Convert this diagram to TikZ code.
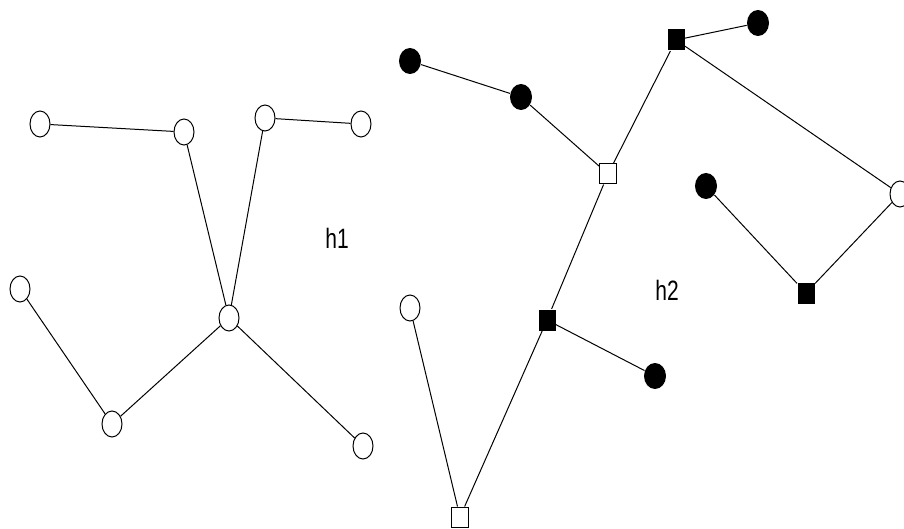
\documentclass[tikz,border=0pt]{standalone}
\usepackage{fontspec}
\newfontfamily\labelfont[FakeStretch=0.75]{Liberation Sans}
\usetikzlibrary{shapes.geometric}

\tikzset{
  whitedot/.style={draw,ellipse,minimum width=20pt,minimum height=26pt,inner sep=0pt},
  blackdot/.style={fill,ellipse,minimum width=22pt,minimum height=26pt,inner sep=0pt},
  whitesq/.style={draw,rectangle,minimum width=17pt,minimum height=20pt,inner sep=0pt},
  blacksq/.style={fill,rectangle,minimum width=17pt,minimum height=21pt,inner sep=0pt},
  graphname/.style={font=\labelfont\fontsize{28}{28}\selectfont,inner sep=0pt}
}

\begin{document}
\begin{tikzpicture}[x=1pt,y=-1pt,line width=1pt]
  \useasboundingbox (0,0) rectangle (904,529);

  % h1
  \foreach \n/\x/\y in {a/40/124,b/184/132,c/265/118,d/361/124,e/20/289,f/229/318,g/112/424,h/363/446}
    \node[whitedot] (\n) at (\x,\y) {};
  \foreach \u/\v in {a/b,b/f,c/f,c/d,e/g,g/f,f/h}
    \draw (\u) -- (\v);
  \node[graphname] (lab1) at (337,238) {h1};

  % h2
  \foreach \n/\x/\y in {k1/410/61,k2/521/97,k3/758/23,k4/706/186,k5/655/376}
    \node[blackdot] (\n) at (\x,\y) {};
  \foreach \n/\x/\y in {o1/900/194,o2/410/308}
    \node[whitedot] (\n) at (\x,\y) {};
  \foreach \n/\x/\y in {s1/608/174,s2/460/517}
    \node[whitesq] (\n) at (\x,\y) {};
  \foreach \n/\x/\y in {q1/676/40,q2/806/293,q3/547/320}
    \node[blacksq] (\n) at (\x,\y) {};
  \foreach \u/\v in {k1/k2,k2/s1,s1/q1,q1/k3,q1/o1,o1/q2,k4/q2,s1/q3,q3/k5,q3/s2,o2/s2}
    \draw (\u) -- (\v);
  \node[graphname] (lab2) at (667,290) {h2};
\end{tikzpicture}
\end{document}
